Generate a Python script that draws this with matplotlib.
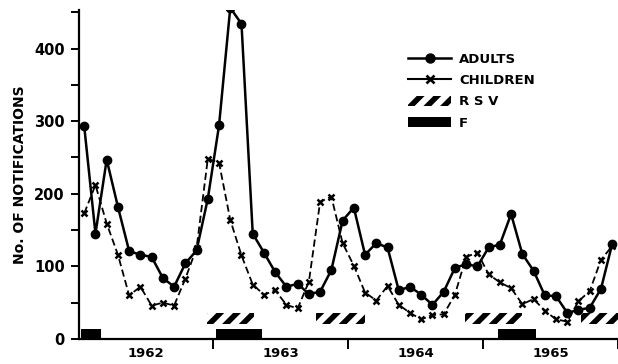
"""Monthly notifications of respiratory infection, 1962-1965, with RSV and F periods."""

import numpy as np
import matplotlib
matplotlib.use("Agg")
import matplotlib.pyplot as plt
from matplotlib.lines import Line2D
from matplotlib.patches import Patch

# monthly counts, Jan 1962 .. Dec 1965
adults = [293, 145, 247, 182, 121, 116, 113, 84, 72, 104, 122, 193,
          294, 456, 434, 145, 119, 92, 72, 76, 62, 65, 95, 163,
          181, 116, 132, 126, 67, 72, 61, 47, 65, 98, 103, 100,
          126, 130, 172, 117, 94, 60, 59, 36, 40, 43, 69, 131]
children = [173, 212, 159, 116, 60, 72, 46, 50, 46, 83, 125, 248,
            243, 164, 115, 75, 61, 67, 47, 42, 79, 189, 196, 132,
            101, 64, 53, 73, 47, 36, 27, 33, 34, 61, 113, 119,
            89, 78, 70, 48, 55, 39, 27, 24, 52, 66, 109, 128]
years = ["1962", "1963", "1964", "1965"]

# periods (in months from Jan 1962) when viruses were isolated
rsv_start = [11.45, 21.1, 34.4, 44.7]
rsv_end = [15.65, 25.5, 39.45, 48.0]
f_start = [0.2, 12.25, 37.35]
f_end = [2.0, 16.35, 40.7]

plt.rcParams["font.family"] = "DejaVu Sans"
plt.rcParams["font.weight"] = "bold"
plt.rcParams["hatch.linewidth"] = 4.0

fig = plt.figure(figsize=(6.18, 3.64), dpi=100)
ax = fig.add_axes([0.1272, 0.0687, 0.8725, 0.9038])

x = np.arange(len(adults)) + 0.5
ax.plot(x, children, color="black", lw=1.3, dashes=(4, 2),
        marker="x", ms=5, mew=1.8, zorder=2)
ax.plot(x, adults, color="black", lw=1.8, marker="o", ms=6, zorder=3)

for s, e in zip(rsv_start, rsv_end):
    ax.bar(s, 15, width=e - s, bottom=21, align="edge", color="white",
           edgecolor="black", hatch="//", lw=0, zorder=1)
for s, e in zip(f_start, f_end):
    ax.bar(s, 14, width=e - s, bottom=0, align="edge", color="black",
           lw=0, zorder=1)

ax.set_xlim(0, 48)
ax.set_ylim(0, 453)
for side in ["top", "right"]:
    ax.spines[side].set_visible(False)
for side in ["left", "bottom"]:
    ax.spines[side].set_linewidth(1.6)

ax.set_yticks([0, 100, 200, 300, 400])
ax.set_yticks([50, 150, 250, 350, 450], minor=True)
ax.tick_params(axis="y", which="both", length=6, width=1.4, labelsize=10.5, pad=4)

ax.set_xticks([12, 24, 36, 48])
ax.set_xticklabels([])
ax.set_xticks([6, 18, 30, 42], minor=True)
ax.set_xticklabels(years, minor=True)
ax.tick_params(axis="x", which="major", length=7, width=1.4)
ax.tick_params(axis="x", which="minor", length=0, labelsize=9.5, pad=6)

ax.set_ylabel("No. OF NOTIFICATIONS", fontsize=10, fontweight="bold")
ax.yaxis.set_label_coords(-0.095, 0.5)

handles = [
    Line2D([], [], color="black", lw=1.8, marker="o", ms=6.5),
    Line2D([], [], color="black", lw=1.5, marker="x", ms=5.5, mew=1.9),
    Patch(facecolor="white", edgecolor="black", hatch="//", lw=0),
    Patch(facecolor="black", lw=0),
]
labels = ["ADULTS", "CHILDREN", "R S V", "F"]
fig.legend(handles, labels, loc="upper left",
           bbox_to_anchor=(408 / 618, 1 - 53 / 364), frameon=False,
           fontsize=9.5, borderpad=0, borderaxespad=0, handlelength=3.26,
           handleheight=0.8, handletextpad=0.6, labelspacing=0.62)

plt.savefig("out.png", dpi=100)
plt.close()
